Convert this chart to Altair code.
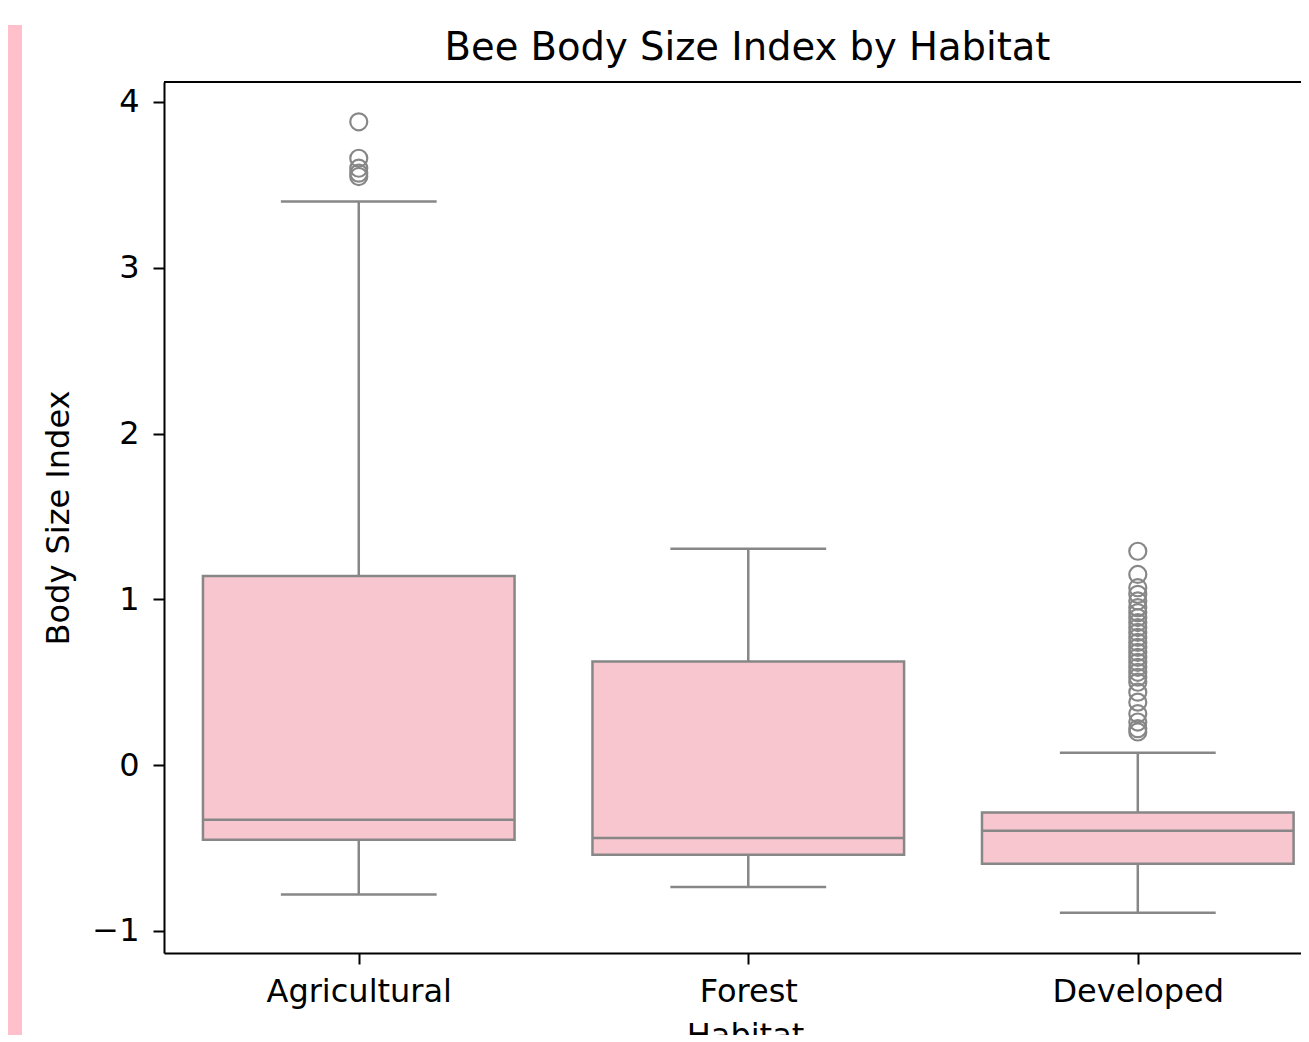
import altair as alt
import pandas as pd

# ---- data ----
habitats = ["Agricultural", "Forest", "Developed"]
whisker_lo = [-0.78, -0.735, -0.89]
q1 = [-0.45, -0.54, -0.595]
median = [-0.33, -0.44, -0.395]
q3 = [1.14, 0.625, -0.285]
whisker_hi = [3.40, 1.305, 0.075]

outliers_agricultural = [3.88, 3.66, 3.60, 3.57, 3.55]
outliers_forest = []
outliers_developed = [1.29, 1.15, 1.07, 1.03, 0.99, 0.95, 0.92, 0.89, 0.86,
                      0.83, 0.80, 0.77, 0.74, 0.71, 0.68, 0.65, 0.62, 0.59,
                      0.56, 0.53, 0.50, 0.44, 0.38, 0.31, 0.26, 0.22, 0.20]

y_ticks = [-1, 0, 1, 2, 3, 4]

# ---- styling ----
BOX_W = 0.8
CAP_W = 0.4
FILL = "#F7C6CF"
LINE = "#878787"
FONT = "DejaVu Sans"
W, H = 1137, 871

stats = pd.DataFrame({
    "habitat": habitats,
    "pos": list(range(len(habitats))),
    "lo": whisker_lo, "q1": q1, "med": median, "q3": q3, "hi": whisker_hi,
})
stats["bx0"] = stats["pos"] - BOX_W / 2
stats["bx1"] = stats["pos"] + BOX_W / 2
stats["cx0"] = stats["pos"] - CAP_W / 2
stats["cx1"] = stats["pos"] + CAP_W / 2

out_rows = []
for i, vals in enumerate([outliers_agricultural, outliers_forest, outliers_developed]):
    for v in vals:
        out_rows.append({"habitat": habitats[i], "pos": i, "v": v})
outs = pd.DataFrame(out_rows)

xscale = alt.Scale(domain=[-0.5, 2.419], nice=False, zero=False)
yscale = alt.Scale(domain=[-1.133, 4.12], nice=False, zero=False)

label_expr = "[" + ",".join(f"'{h}'" for h in habitats) + "][datum.value]"

x_axis = alt.Axis(values=[0, 1, 2], labelExpr=label_expr, title="Habitat",
                  grid=False, domainColor="black", domainWidth=2,
                  tickColor="black", tickWidth=2, tickSize=11,
                  labelFont=FONT, labelFontSize=32, labelColor="black",
                  labelPadding=12, labelAngle=0, labelLimit=0,
                  titleFont=FONT, titleFontSize=32, titleFontWeight="normal",
                  titleColor="black", titleBaseline="alphabetic", titleY=92,
                  titleX=581, titleAlign="center")
y_axis = alt.Axis(values=y_ticks, title="Body Size Index", grid=False,
                  labelExpr="datum.value < 0 ? '\u2212' + format(-datum.value, 'd') : format(datum.value, 'd')",
                  domainColor="black", domainWidth=2,
                  tickColor="black", tickWidth=2, tickSize=11,
                  labelFont=FONT, labelFontSize=32, labelColor="black",
                  labelPadding=14,
                  titleFont=FONT, titleFontSize=32, titleFontWeight="normal",
                  titleColor="black", titleX=-106, titleY=H / 2,
                  titleBaseline="middle", titleAngle=270)

base = alt.Chart(stats)

boxes = base.mark_rect(fill=FILL, stroke=LINE, strokeWidth=2.5).encode(
    x=alt.X("bx0:Q", scale=xscale, axis=x_axis),
    x2="bx1:Q",
    y=alt.Y("q1:Q", scale=yscale, axis=y_axis),
    y2="q3:Q",
)
whisk_low = base.mark_rule(color=LINE, strokeWidth=2.5).encode(
    x=alt.X("pos:Q", scale=xscale), y=alt.Y("lo:Q", scale=yscale), y2="q1:Q")
whisk_high = base.mark_rule(color=LINE, strokeWidth=2.5).encode(
    x=alt.X("pos:Q", scale=xscale), y=alt.Y("q3:Q", scale=yscale), y2="hi:Q")
cap_low = base.mark_rule(color=LINE, strokeWidth=2.5).encode(
    x=alt.X("cx0:Q", scale=xscale), x2="cx1:Q", y=alt.Y("lo:Q", scale=yscale))
cap_high = base.mark_rule(color=LINE, strokeWidth=2.5).encode(
    x=alt.X("cx0:Q", scale=xscale), x2="cx1:Q", y=alt.Y("hi:Q", scale=yscale))
med_line = base.mark_rule(color=LINE, strokeWidth=2.5).encode(
    x=alt.X("bx0:Q", scale=xscale), x2="bx1:Q", y=alt.Y("med:Q", scale=yscale))

fliers = alt.Chart(outs).mark_point(shape="circle", filled=False, size=290,
                                    color=LINE, strokeWidth=2.2, opacity=1).encode(
    x=alt.X("pos:Q", scale=xscale), y=alt.Y("v:Q", scale=yscale))

top_spine = alt.Chart(stats).mark_rule(color="black", strokeWidth=2).encode(
    x=alt.value(0), x2=alt.value(W), y=alt.value(0))

side_strip = alt.Chart(stats).mark_rect(color="#FFC0CB").encode(
    x=alt.value(-160), x2=alt.value(-142), y=alt.value(-57), y2=alt.value(H + 200))

chart = alt.layer(
    side_strip, boxes, whisk_low, whisk_high, cap_low, cap_high, med_line,
    fliers, top_spine
).properties(
    width=W, height=H,
    title=alt.TitleParams("Bee Body Size Index by Habitat", font=FONT,
                          fontSize=38.5, fontWeight="normal", color="black",
                          anchor="middle", frame="group", dx=15, dy=54,
                          offset=11),
    autosize=alt.AutoSizeParams(type="none"),
    padding={"left": 156, "top": 74, "right": 0, "bottom": 82},
).configure_view(stroke=None).configure(background="white")

chart.save("out.html", embed_options={"renderer": "svg", "actions": False})
